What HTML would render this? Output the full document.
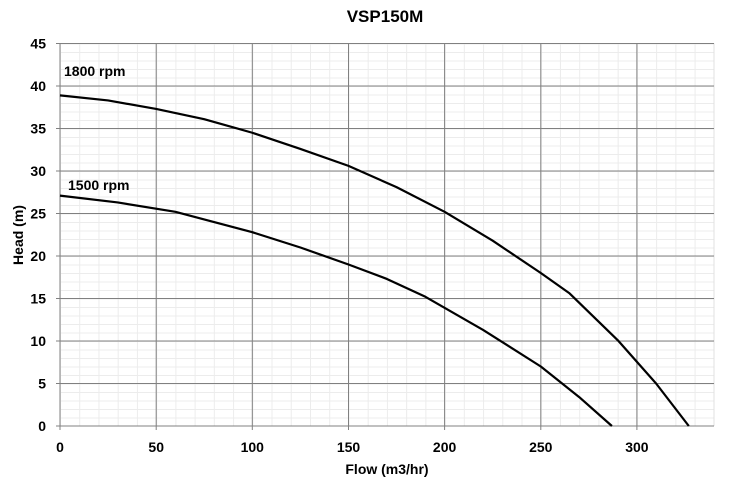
<!DOCTYPE html><html><head><style>body{margin:0;background:#fff}svg{display:block;font-family:"Liberation Sans",sans-serif}</style></head><body>
<svg width="741" height="497" viewBox="0 0 741 497">
<defs><pattern id="m" patternUnits="userSpaceOnUse" x="60" y="43.5" width="19.23" height="8.5"><path d="M0.5,0V8.5M0,0.5H19.23" stroke="#ececec" stroke-width="1" fill="none"/></pattern></defs>
<rect x="60" y="43.5" width="654" height="382.5" fill="url(#m)"/>
<line x1="714" x2="714" y1="43.5" y2="426" stroke="#e0e0e0"/>
<g stroke="#808080" stroke-width="1">
<line x1="60" x2="60" y1="43.5" y2="430"/><line x1="156.2" x2="156.2" y1="43.5" y2="430"/><line x1="252.3" x2="252.3" y1="43.5" y2="430"/><line x1="348.5" x2="348.5" y1="43.5" y2="430"/><line x1="444.6" x2="444.6" y1="43.5" y2="430"/><line x1="540.8" x2="540.8" y1="43.5" y2="430"/><line x1="636.9" x2="636.9" y1="43.5" y2="430"/>
<line x1="56" x2="714" y1="426" y2="426"/><line x1="56" x2="714" y1="383.5" y2="383.5"/><line x1="56" x2="714" y1="341" y2="341"/><line x1="56" x2="714" y1="298.5" y2="298.5"/><line x1="56" x2="714" y1="256" y2="256"/><line x1="56" x2="714" y1="213.5" y2="213.5"/><line x1="56" x2="714" y1="171" y2="171"/><line x1="56" x2="714" y1="128.5" y2="128.5"/><line x1="56" x2="714" y1="86" y2="86"/><line x1="56" x2="714" y1="43.5" y2="43.5"/>
</g>
<g font-size="14" font-weight="bold" text-anchor="middle">
<text x="60" y="452">0</text><text x="156.2" y="452">50</text><text x="252.3" y="452">100</text><text x="348.5" y="452">150</text><text x="444.6" y="452">200</text><text x="540.8" y="452">250</text><text x="636.9" y="452">300</text>
</g>
<g font-size="14" font-weight="bold" text-anchor="end">
<text x="46" y="431">0</text><text x="46" y="388.5">5</text><text x="46" y="346">10</text><text x="46" y="303.5">15</text><text x="46" y="261">20</text><text x="46" y="218.5">25</text><text x="46" y="176">30</text><text x="46" y="133.5">35</text><text x="46" y="91">40</text><text x="46" y="48.5">45</text>
</g>
<g fill="none" stroke="#000" stroke-width="2.2" stroke-linejoin="round">
<path d="M60,95.35L108.1,100.45L156.2,108.95L204.2,119.15L252.3,132.75L300.4,148.9L348.5,165.9L396.5,187.15L444.6,211.8L492.7,240.7L540.8,273L569.6,293.4L617.7,340.15L656.1,383.5L688.8,426"/>
<path d="M60,195.65L117.7,202.45L175.4,211.8L252.3,232.2L300.4,247.5L348.5,264.5L386.9,278.95L425.4,296.8L483.1,329.95L540.8,366.5L579.2,397.1L611.9,426"/>
</g>
<text x="385" y="22" font-size="17" font-weight="bold" text-anchor="middle">VSP150M</text>
<text x="387" y="474" font-size="14" font-weight="bold" text-anchor="middle">Flow (m3/hr)</text>
<text transform="translate(23,235) rotate(-90)" font-size="14" font-weight="bold" text-anchor="middle">Head (m)</text>
<text x="64" y="76" font-size="14" font-weight="bold">1800 rpm</text>
<text x="68" y="190" font-size="14" font-weight="bold">1500 rpm</text>
</svg></body></html>
